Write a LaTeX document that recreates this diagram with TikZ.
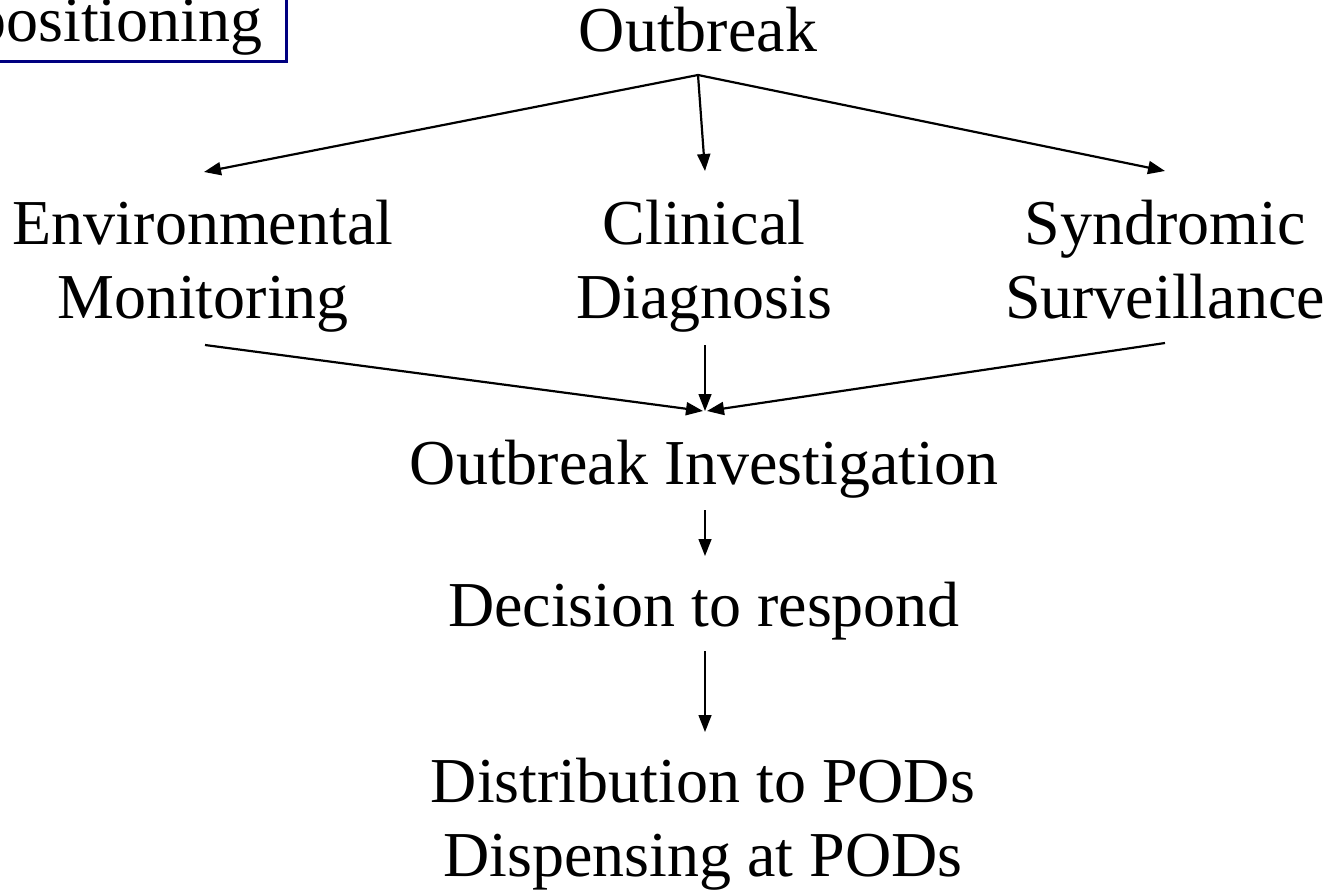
\documentclass[tikz,border=0pt]{standalone}
\usepackage{fontspec}
\setmainfont{Liberation Serif}
\usetikzlibrary{arrows.meta}
\definecolor{boxnavy}{RGB}{0,0,128}
\begin{document}
\begin{tikzpicture}[x=1pt,y=-1pt,
  label/.style={inner sep=0pt, align=center, font=\fontsize{64}{73.5}\selectfont},
  flow/.style={line width=2.2pt, -{Triangle[length=17pt,width=13pt]}},
  thinflow/.style={line width=1.4pt, -{Triangle[length=17pt,width=13pt]}}]
\useasboundingbox (0,0) rectangle (1330,893);
\clip (0,0) rectangle (1330,893);

% framed title, partly outside the page
\node[draw=boxnavy, line width=3pt, inner xsep=24pt, inner ysep=6pt,
      font=\fontsize{64}{73.5}\selectfont, anchor=base east] (prep) at (288,42) {positioning};

% labels (base anchor sits on the last line's baseline)
\node[label, anchor=base] (out)  at (698,52)  {Outbreak};
\node[label, anchor=base] (env)  at (203,318) {Environmental\\Monitoring};
\node[label, anchor=base] (clin) at (704,318) {Clinical\\Diagnosis};
\node[label, anchor=base] (syn)  at (1165,318) {Syndromic\\Surveillance};
\node[label, anchor=base] (inv)  at (704,484) {Outbreak Investigation};
\node[label, anchor=base] (dec)  at (704,626) {Decision to respond};
\node[label, anchor=base] (dist) at (703,876) {Distribution to PODs\\Dispensing at PODs};

% connector end points
\coordinate (fork)  at (698,75);
\coordinate (envT)  at (204,172);
\coordinate (clinT) at (705,171);
\coordinate (synT)  at (1165,171);
\coordinate (envB)  at (205,345);
\coordinate (clinB) at (705,345);
\coordinate (synB)  at (1165,343);
\coordinate (join)  at (705,411);
\coordinate (invB)  at (705,510);
\coordinate (decT)  at (705,556);
\coordinate (decB)  at (705,651);
\coordinate (distT) at (705,732);

% connectors
\draw[flow] (fork) -- (envT);
\draw[flow] (fork) -- (clinT);
\draw[flow] (fork) -- (synT);
\draw[flow] (envB) -- ([xshift=-2pt]join);
\draw[thinflow] (clinB) -- (join);
\draw[flow] (synB) -- ([xshift=2pt]join);
\draw[thinflow] (invB) -- (decT);
\draw[thinflow] (decB) -- (distT);
\end{tikzpicture}
\end{document}
